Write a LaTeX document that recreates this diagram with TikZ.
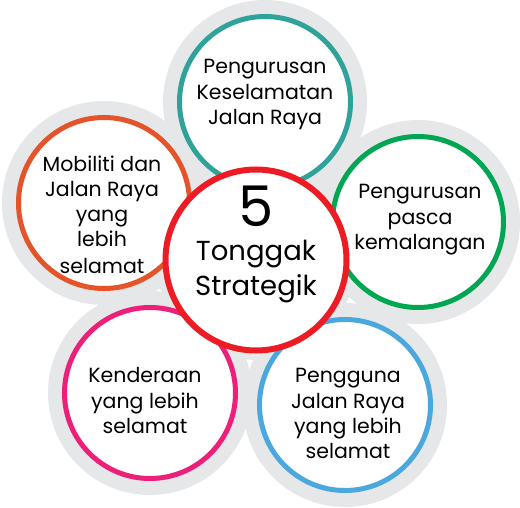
\documentclass[tikz,border=0pt]{standalone}
\usepackage{fontspec}
\setmainfont{Poppins}
\definecolor{halo}{HTML}{E6E7E8}
\definecolor{cteal}{HTML}{2FA39A}
\definecolor{corange}{HTML}{E5532B}
\definecolor{cgreen}{HTML}{00A651}
\definecolor{cblue}{HTML}{4AA8DE}
\definecolor{cpink}{HTML}{EC1F79}
\definecolor{cred}{HTML}{ED1C24}
\tikzset{
  halodisk/.style={circle,fill=halo,minimum size=204pt,inner sep=0pt},
  ringbox/.style={circle,fill=white,draw=#1,line width=5pt,minimum size=171pt,inner sep=0pt},
  centerbox/.style={circle,fill=white,draw=cred,line width=6pt,minimum size=181pt,inner sep=0pt},
  lbl/.style={anchor=base,inner sep=0pt,font=\fontsize{20.5}{20.5}\selectfont},
  clbl/.style={anchor=base,inner sep=0pt,font=\fontsize{27.5}{27.5}\selectfont},
}
\begin{document}
\begin{tikzpicture}[x=1pt,y=-1pt]
\useasboundingbox (0,0) rectangle (520,508);
% halos
\node[halodisk,minimum size=200pt] (hc) at (256,260) {};
\node[halodisk] (h1) at (265,102) {};
\node[halodisk] (h2) at (104,203) {};
\node[halodisk] (h3) at (418,222) {};
\node[halodisk] (h4) at (150,393) {};
\node[halodisk] (h5) at (345,405) {};
% rings
\node[ringbox=cteal] (c1) at (265,102) {};
\node[ringbox=corange] (c2) at (104,203) {};
\node[ringbox=cgreen] (c3) at (418,222) {};
\node[ringbox=cpink] (c4) at (150,393) {};
\node[ringbox=cblue] (c5) at (345,405) {};
\node[centerbox] (c0) at (256,260) {};
% texts
\node[lbl] (t11) at (265,74) {Pengurusan};
\node[lbl] (t12) at (265,100) {Keselamatan};
\node[lbl] (t13) at (265,125) {Jalan Raya};
\node[lbl] (t21) at (102,172) {Mobiliti dan};
\node[lbl] (t22) at (102,197) {Jalan Raya};
\node[lbl] (t23) at (102,222) {yang};
\node[lbl] (t24) at (102,247) {lebih};
\node[lbl] (t25) at (102,273) {selamat};
\node[lbl] (t31) at (420,199) {Pengurusan};
\node[lbl] (t32) at (420,225) {pasca};
\node[lbl] (t33) at (420,250) {kemalangan};
\node[lbl] (t41) at (145,382) {Kenderaan};
\node[lbl] (t42) at (145,408) {yang lebih};
\node[lbl] (t43) at (145,433) {selamat};
\node[lbl] (t51) at (348,382) {Pengguna};
\node[lbl] (t52) at (348,408) {Jalan Raya};
\node[lbl] (t53) at (348,433) {yang lebih};
\node[lbl] (t54) at (348,458) {selamat};
\node[anchor=base,inner sep=0pt,font=\fontsize{56}{56}\selectfont] (t01) at (256,226) {5};
\node[clbl] (t02) at (256,260) {Tonggak};
\node[clbl] (t03) at (256,295) {Strategik};
\end{tikzpicture}
\end{document}
